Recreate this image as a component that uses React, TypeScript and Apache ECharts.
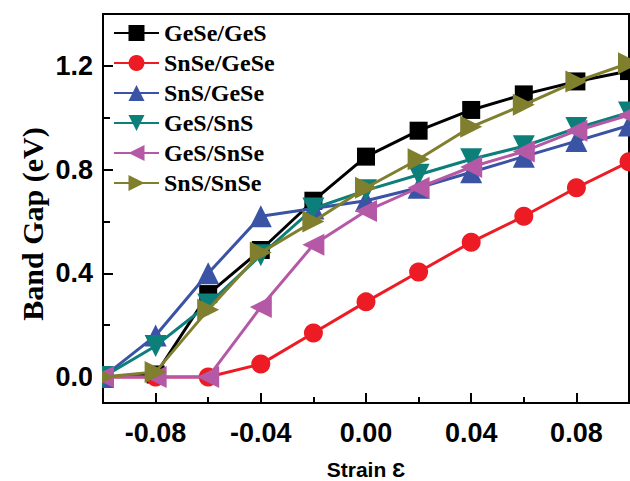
import React, { useEffect, useRef } from "react";
import * as echarts from "echarts";

const strain = [-0.1, -0.08, -0.06, -0.04, -0.02, 0.0, 0.02, 0.04, 0.06, 0.08, 0.1];
const seriesNames = ["GeSe/GeS", "SnSe/GeSe", "SnS/GeSe", "GeS/SnS", "GeS/SnSe", "SnS/SnSe"];
const geseGes = [0.0, 0.01, 0.32, 0.49, 0.68, 0.85, 0.95, 1.03, 1.09, 1.14, 1.18];
const snseGese = [0.0, 0.0, 0.0, 0.05, 0.17, 0.29, 0.405, 0.52, 0.62, 0.73, 0.83];
const snsGese = [0.0, 0.16, 0.4, 0.62, 0.65, 0.68, 0.73, 0.79, 0.85, 0.91, 0.97];
const gesSns = [0.0, 0.12, 0.28, 0.47, 0.65, 0.72, 0.78, 0.84, 0.89, 0.96, 1.02];
const gesSnse = [0.0, 0.0, 0.0, 0.27, 0.51, 0.64, 0.73, 0.81, 0.87, 0.95, 1.01];
const snsSnse = [0.0, 0.02, 0.26, 0.48, 0.6, 0.73, 0.84, 0.965, 1.05, 1.14, 1.21];
const xMajorTicks = [-0.08, -0.04, 0.0, 0.04, 0.08];
const xMinorTicks = [-0.06, -0.02, 0.02, 0.06];
const yMajorTicks = [0.0, 0.4, 0.8, 1.2];
const yMinorTicks = [0.2, 0.6, 1.0];
const xTitle = "Strain Ɛ";
const yTitle = "Band Gap (eV)";

const allValues = [geseGes, snseGese, snsGese, gesSns, gesSnse, snsSnse];
const colors = ["#000000", "#ED1C24", "#3A53A4", "#0D7F7B", "#B558A6", "#7F7F2E"];
const symbols = ["rect", "circle", "triangle", "triangle", "triangle", "triangle"];
const rotates = [0, 0, 0, 180, 90, -90];
const sizes = [18, 19, 22, 22, 22, 22];

export default function App() {
  const ref = useRef<HTMLDivElement>(null);
  useEffect(() => {
    if (!ref.current) return;
    const chart = echarts.init(ref.current, null, { renderer: "svg" });
    const series = seriesNames.map((name, i) => ({
      name,
      type: "line",
      xAxisIndex: 0,
      yAxisIndex: 0,
      data: strain.map((x, j) => [x, allValues[i][j]]),
      symbol: symbols[i],
      symbolSize: sizes[i],
      symbolRotate: rotates[i],
      lineStyle: { color: colors[i], width: 3 },
      itemStyle: { color: colors[i] },
      clip: true,
      z: 2 + i,
    }));
    const axisTextBase = { fontFamily: "Liberation Sans, Arial, sans-serif", fontWeight: "bold", color: "#000" };
    chart.setOption({
      animation: false,
      backgroundColor: "#fff",
      grid: {
        left: 103,
        right: 1,
        top: 14,
        bottom: 78,
        show: true,
        borderColor: "#000",
        borderWidth: 2,
        containLabel: false,
        outerBoundsMode: "none",
      },
      legend: {
        left: 113,
        top: 21,
        padding: 0,
        orient: "vertical",
        itemWidth: 45,
        itemHeight: 20,
        itemGap: 6,
        data: seriesNames,
        textStyle: { fontFamily: "Liberation Serif, Times New Roman, serif", fontWeight: "bold", fontSize: 24, lineHeight: 24, color: "#000" },
      },
      xAxis: [
        {
          type: "value",
          min: -0.1,
          max: 0.1,
          position: "bottom",
          name: xTitle,
          nameLocation: "middle",
          nameGap: 55,
          nameTextStyle: { ...axisTextBase, fontSize: 21, lineHeight: 22 },
          splitLine: { show: false },
          axisLine: { onZero: false, lineStyle: { color: "#000", width: 2 } },
          axisTick: { inside: true, length: 10, lineStyle: { color: "#000", width: 2 }, customValues: xMajorTicks },
          axisLabel: { ...axisTextBase, fontSize: 27, margin: 16, customValues: xMajorTicks, formatter: (v: number) => v.toFixed(2) },
        },
        {
          type: "value",
          min: -0.1,
          max: 0.1,
          position: "bottom",
          offset: 0,
          splitLine: { show: false },
          axisLine: { show: false, onZero: false },
          axisTick: { inside: true, length: 6, lineStyle: { color: "#000", width: 2 }, customValues: xMinorTicks },
          axisLabel: { show: false },
        },
      ],
      yAxis: [
        {
          type: "value",
          min: -0.1,
          max: 1.4,
          position: "left",
          splitLine: { show: false },
          axisLine: { onZero: false, lineStyle: { color: "#000", width: 2 } },
          axisTick: { inside: true, length: 10, lineStyle: { color: "#000", width: 2 }, customValues: yMajorTicks },
          axisLabel: { ...axisTextBase, fontSize: 27, margin: 10, customValues: yMajorTicks, formatter: (v: number) => v.toFixed(1) },
        },
        {
          type: "value",
          min: -0.1,
          max: 1.4,
          position: "left",
          offset: 0,
          splitLine: { show: false },
          axisLine: { show: false, onZero: false },
          axisTick: { inside: true, length: 7, lineStyle: { color: "#000", width: 2 }, customValues: yMinorTicks },
          axisLabel: { show: false },
        },
      ],
      series,
      graphic: [
        { type: "rect", left: 92, top: 355, shape: { width: 10, height: 46 }, style: { fill: "#fff" }, z: 100 },
        {
          type: "text",
          x: 32,
          y: 224,
          rotation: Math.PI / 2,
          style: {
            text: yTitle,
            fontFamily: "Liberation Serif, Times New Roman, serif",
            fontWeight: "bold",
            fontSize: 30,
            fill: "#000",
            align: "center",
            verticalAlign: "middle",
          },
        },
      ],
    });
    return () => chart.dispose();
  }, []);
  return <div ref={ref} style={{ position: "fixed", left: 0, top: 0, width: 630, height: 481 }} />;
}
